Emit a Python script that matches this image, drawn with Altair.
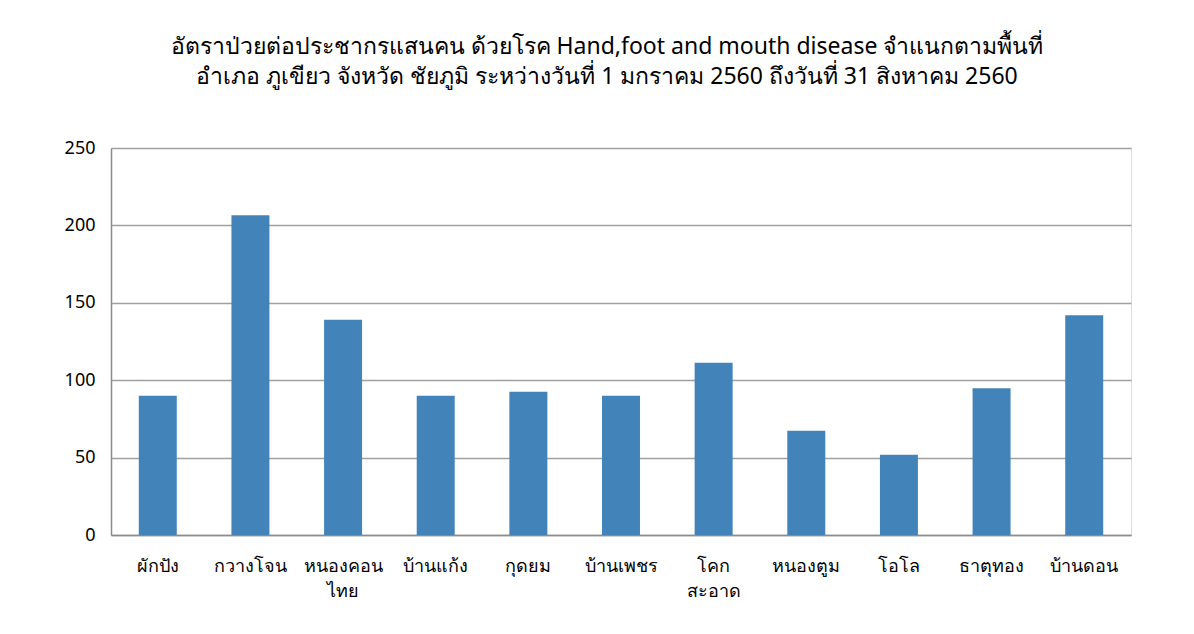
import altair as alt
import pandas as pd

districts = ["ผักปัง", "กวางโจน", "หนองคอน\nไทย", "บ้านแก้ง", "กุดยม", "บ้านเพชร",
             "โคก\nสะอาด", "หนองตูม", "โอโล", "ธาตุทอง", "บ้านดอน"]
rates = [90, 206.5, 139, 90, 92.6, 90, 111.2, 67.3, 51.8, 94.8, 141.9]
y_ticks = [0, 50, 100, 150, 200, 250]
title_lines = [
    "อัตราป่วยต่อประชากรแสนคน ด้วยโรค Hand,foot and mouth disease  จำแนกตามพื้นที่",
    "อำเภอ  ภูเขียว จังหวัด ชัยภูมิ  ระหว่างวันที่  1 มกราคม 2560  ถึงวันที่  31 สิงหาคม 2560",
]

df = pd.DataFrame({"district": districts, "rate": rates})
FONT = "Noto Sans"

chart = alt.Chart(df).mark_bar(color="#4284BA").encode(
    x=alt.X("district:N", sort=districts,
            scale=alt.Scale(paddingInner=0.59, paddingOuter=0.3),
            axis=alt.Axis(title=None, labelAngle=0, labelExpr="split(datum.label, '\\n')",
                          labelFontSize=18, labelColor="#000000", labelPadding=22,
                          ticks=False, domainColor="#8C8C8C", domainWidth=1.5,
                          labelLineHeight=25, labelBaseline="top", labelFont=FONT)),
    y=alt.Y("rate:Q", scale=alt.Scale(domain=[0, 250]),
            axis=alt.Axis(title=None, values=y_ticks, labelFontSize=18, labelColor="#000000",
                          labelPadding=16, ticks=False, domainColor="#8C8C8C", domainWidth=1.5,
                          gridColor="#A0A0A0", gridWidth=1.5, labelFont=FONT)),
).properties(
    width=1020,
    height=387,
    padding={"left": 56, "top": 28, "right": 10, "bottom": 5},
    title=alt.TitleParams(text=title_lines, fontSize=23, font=FONT, fontWeight="normal",
                          lineHeight=30, color="#000000", anchor="middle", offset=50, dx=-14),
).configure_view(stroke=None).configure(background="#FFFFFF")

chart.save("out.html", embed_options={"renderer": "svg", "actions": False})
